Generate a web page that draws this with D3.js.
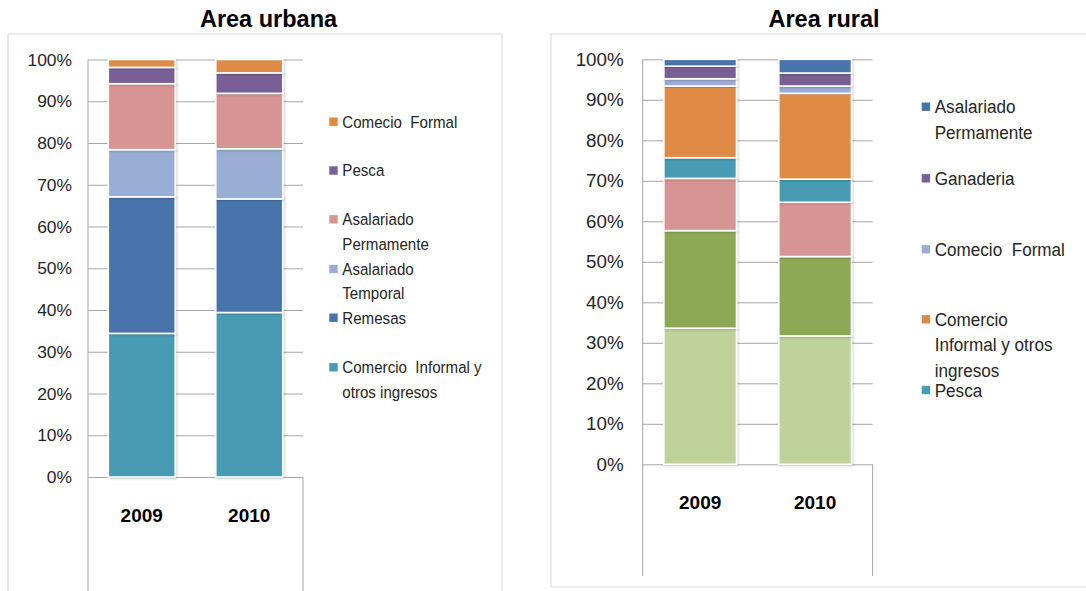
<!DOCTYPE html>
<html>
<head>
<meta charset="utf-8">
<script src="https://cdn.jsdelivr.net/npm/d3@7"></script>
<style>
  body { margin: 0; background: #fff; }
  svg { display: block; }
  .tick text { font-family: "Liberation Sans", Arial, sans-serif; fill: #262626; }
</style>
</head>
<body>
<svg id="chart" width="1086" height="591"></svg>
<script>
// data
const years = ['2009', '2010'];
const yTicks = [0, 10, 20, 30, 40, 50, 60, 70, 80, 90, 100];

// urban series, stacked from the bottom
const urbanKeys = ['Comercio  Informal y otros ingresos', 'Remesas', 'Asalariado Temporal',
  'Asalariado Permamente', 'Pesca', 'Comecio  Formal'];
const urbanColors = ['#4A9BB4', '#4775AB', '#9AAED5', '#D69593', '#7A5E96', '#DF8A44'];
const urban2009 = [34.4, 32.7, 11.3, 15.8, 3.9, 1.9];
const urban2010 = [39.4, 27.2, 12.0, 13.3, 4.9, 3.2];

// rural series, stacked from the bottom (first three are not in the legend)
const ruralKeys = ['Agricultura', 'Remesas', 'Asalariado Temporal', 'Pesca',
  'Comercio Informal y otros ingresos', 'Comecio  Formal', 'Ganaderia', 'Asalariado Permamente'];
const ruralColors = ['#C0D29B', '#8DA955', '#D69593', '#4A9BB4', '#DF8A44', '#9AAED5', '#7A5E96', '#4775AB'];
const rural2009 = [33.6, 24.1, 12.9, 5.1, 17.7, 1.8, 3.1, 1.7];
const rural2010 = [31.7, 19.6, 13.4, 5.7, 21.2, 1.8, 3.2, 3.4];

const svg = d3.select('#chart');

// soft shadow like the office chart
const defs = svg.append('defs');
defs.append('filter').attr('id', 'shadow').attr('x', '-10%').attr('y', '-10%')
  .attr('width', '130%').attr('height', '130%')
  .append('feDropShadow')
  .attr('dx', 1).attr('dy', 1).attr('stdDeviation', 1)
  .attr('flood-color', '#000').attr('flood-opacity', 0.22);

function drawPanel(p) {
  const g = svg.append('g');

  // outer frame
  g.append('path')
    .attr('d', p.framePath)
    .attr('fill', 'none')
    .attr('stroke', '#D9D9D9')
    .attr('stroke-width', 1);

  // title
  g.append('text')
    .attr('x', p.titleX).attr('y', 27)
    .attr('text-anchor', 'middle')
    .attr('font-family', 'Liberation Sans, Arial, sans-serif')
    .attr('font-weight', 'bold')
    .attr('font-size', 23.5)
    .text(p.title);

  const x = d3.scaleBand(years, [p.left, p.right]).paddingInner(p.pad).paddingOuter(p.pad / 2);
  const y = d3.scaleLinear([0, 100], [p.bottom, p.top]);

  // gridlines
  g.append('g')
    .attr('transform', `translate(${p.left},0)`)
    .call(d3.axisLeft(y).tickValues(yTicks).tickSize(-(p.right - p.left)).tickFormat(''))
    .call(a => a.select('.domain').remove())
    .selectAll('line').attr('stroke', '#A6A6A6');

  // y labels
  g.append('g')
    .attr('transform', `translate(${p.left},0)`)
    .call(d3.axisLeft(y).tickValues(yTicks).tickSize(0).tickPadding(p.tickPad).tickFormat(d => d + '%'))
    .call(a => a.select('.domain').remove())
    .selectAll('text').attr('font-size', p.tickSize);

  // axis lines: full-height left line, right line under the category area
  g.append('line')
    .attr('x1', p.left).attr('x2', p.left)
    .attr('y1', p.top).attr('y2', p.axisEnd)
    .attr('stroke', '#A6A6A6');
  g.append('line')
    .attr('x1', p.right).attr('x2', p.right)
    .attr('y1', p.bottom).attr('y2', p.axisEnd)
    .attr('stroke', '#A6A6A6');

  // stacked bars
  const rows = years.map((yr, i) => {
    const r = { year: yr };
    p.keys.forEach((k, j) => { r[k] = p.values[i][j]; });
    return r;
  });
  const series = d3.stack().keys(p.keys)(rows);
  const color = d3.scaleOrdinal(p.keys, p.colors);

  g.append('g').selectAll('g')
    .data(series)
    .join('g')
    .attr('fill', d => color(d.key))
    .selectAll('rect')
    .data(d => d)
    .join('rect')
    .attr('x', d => x(d.data.year))
    .attr('width', x.bandwidth())
    .attr('y', d => y(d[1]))
    .attr('height', d => y(d[0]) - y(d[1]))
    .attr('stroke', '#fff')
    .attr('stroke-width', 1.6)
    .attr('filter', 'url(#shadow)');

  // category labels
  g.append('g').selectAll('text')
    .data(years)
    .join('text')
    .attr('x', d => x(d) + x.bandwidth() / 2)
    .attr('y', p.bottom + 38)
    .attr('dy', '0.35em')
    .attr('text-anchor', 'middle')
    .attr('font-family', 'Liberation Sans, Arial, sans-serif')
    .attr('font-weight', 'bold')
    .attr('font-size', 19)
    .text(d => d);

  // legend (text squeezed a little to get the narrow office font look)
  const lg = g.append('g');
  p.legend.forEach(item => {
    lg.append('rect')
      .attr('x', p.legendX).attr('y', item.y - 4.2)
      .attr('width', 8.4).attr('height', 8.4)
      .attr('fill', color(item.key));
    item.lines.forEach((ln, i) => {
      lg.append('text')
        .attr('transform', `translate(${p.legendX + 13},${item.y + i * p.lineH}) scale(${p.legendSqueeze},1)`)
        .attr('dy', '0.35em')
        .attr('font-family', 'Liberation Sans, Arial, sans-serif')
        .attr('font-size', p.legendSize)
        .attr('fill', '#262626')
        .attr('xml:space', 'preserve')
        .text(ln);
    });
  });
}

drawPanel({
  title: 'Area urbana', titleX: 268.5,
  framePath: 'M8,591 V34 H502 V591',
  left: 88, right: 303, top: 59.5, bottom: 477, axisEnd: 591,
  pad: 0.377, tickPad: 16, tickSize: 17.4,
  keys: urbanKeys, colors: urbanColors, values: [urban2009, urban2010],
  legendX: 329.3, legendSize: 16.8, legendSqueeze: 0.9, lineH: 24.5,
  legend: [
    { key: urbanKeys[5], y: 121.7, lines: ['Comecio  Formal'] },
    { key: urbanKeys[4], y: 170.5, lines: ['Pesca'] },
    { key: urbanKeys[3], y: 219.3, lines: ['Asalariado', 'Permamente'] },
    { key: urbanKeys[2], y: 269, lines: ['Asalariado', 'Temporal'] },
    { key: urbanKeys[1], y: 317.7, lines: ['Remesas'] },
    { key: urbanKeys[0], y: 367.3, lines: ['Comercio  Informal y', 'otros ingresos'] }
  ]
});

drawPanel({
  title: 'Area rural', titleX: 824,
  framePath: 'M551,587 V34 H1086 M551,587 H1086',
  left: 642.7, right: 872.6, top: 59.3, bottom: 464.3, axisEnd: 576,
  pad: 0.368, tickPad: 19, tickSize: 18.8,
  keys: ruralKeys, colors: ruralColors, values: [rural2009, rural2010],
  legendX: 921.7, legendSize: 18.8, legendSqueeze: 0.91, lineH: 25.5,
  legend: [
    { key: ruralKeys[7], y: 106.7, lines: ['Asalariado', 'Permamente'] },
    { key: ruralKeys[6], y: 178.3, lines: ['Ganaderia'] },
    { key: ruralKeys[5], y: 249.3, lines: ['Comecio  Formal'] },
    { key: ruralKeys[4], y: 319.3, lines: ['Comercio', 'Informal y otros', 'ingresos'] },
    { key: ruralKeys[3], y: 390, lines: ['Pesca'] }
  ]
});
</script>
</body>
</html>
